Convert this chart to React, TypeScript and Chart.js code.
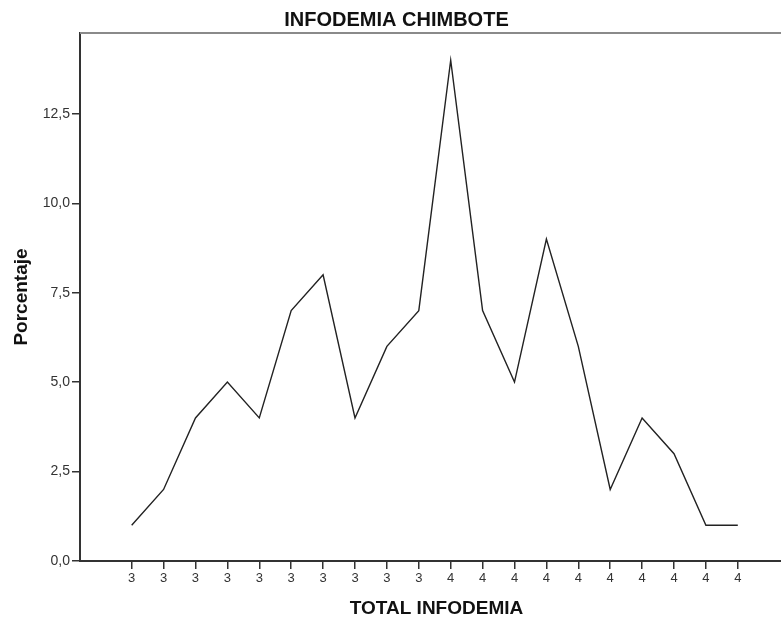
import React, { useEffect, useRef } from "react";
import { Chart, registerables } from "chart.js";

Chart.register(...registerables);

const categories: string[] = ["3", "3", "3", "3", "3", "3", "3", "3", "3", "3", "4", "4", "4", "4", "4", "4", "4", "4", "4", "4"];
const percentages: number[] = [1, 2, 4, 5, 4, 7, 8, 4, 6, 7, 14, 7, 5, 9, 6, 2, 4, 3, 1, 1];
const yTickValues: number[] = [0, 2.5, 5, 7.5, 10, 12.5];

const FONT = "'Liberation Sans', Arial, sans-serif";

const topLinePlugin = {
  id: "topLine",
  afterDraw(chart: any) {
    const { ctx, chartArea } = chart;
    ctx.save();
    ctx.strokeStyle = "#8a8a8a";
    ctx.lineWidth = 2;
    ctx.beginPath();
    ctx.moveTo(chartArea.left, chartArea.top);
    ctx.lineTo(chartArea.right, chartArea.top);
    ctx.stroke();
    ctx.restore();
  },
};

export default function App() {
  const ref = useRef<HTMLCanvasElement | null>(null);

  useEffect(() => {
    if (!ref.current) return;
    const chart = new Chart(ref.current, {
      type: "line",
      data: {
        datasets: [
          {
            data: percentages.map((v, i) => ({ x: i, y: v })),
            borderColor: "#222222",
            borderWidth: 1.4,
            pointRadius: 0,
            tension: 0,
            fill: false,
          },
        ],
      },
      plugins: [topLinePlugin],
      options: {
        animation: false,
        responsive: false,
        devicePixelRatio: 1,
        layout: { padding: 0 },
        plugins: {
          legend: { display: false },
          tooltip: { enabled: false },
          title: {
            display: true,
            text: "INFODEMIA CHIMBOTE",
            color: "#111111",
            font: { family: FONT, size: 20, weight: "bold" },
            padding: { top: 8, bottom: 1 },
          },
        },
        scales: {
          x: {
            type: "linear",
            min: -1.62,
            max: 20.73,
            afterBuildTicks: (scale: any) => {
              scale.ticks = categories.map((_, i) => ({ value: i }));
            },
            afterFit: (scale: any) => {
              scale.height = 62;
            },
            ticks: {
              autoSkip: false,
              maxRotation: 0,
              padding: 2,
              color: "#333333",
              font: { family: FONT, size: 13 },
              callback: (v: any) => {
                const i = Math.round(Number(v));
                return i >= 0 && i < categories.length && Math.abs(i - Number(v)) < 1e-6 ? categories[i] : "";
              },
            },
            grid: {
              display: true,
              drawOnChartArea: false,
              drawTicks: true,
              tickLength: 8,
              color: "#333333",
              lineWidth: 1.5,
            },
            border: { display: true, color: "#333333", width: 2 },
            title: {
              display: true,
              text: "TOTAL INFODEMIA",
              color: "#111111",
              font: { family: FONT, size: 19, weight: "bold" },
              padding: { top: 0, bottom: 3.3 },
            },
          },
          y: {
            type: "linear",
            min: 0,
            max: 14.76,
            afterBuildTicks: (scale: any) => {
              scale.ticks = yTickValues.map((v) => ({ value: v }));
            },
            afterFit: (scale: any) => {
              scale.width = 80;
            },
            ticks: {
              padding: 2,
              color: "#333333",
              font: { family: FONT, size: 14 },
              callback: (v: any) => Number(v).toFixed(1).replace(".", ","),
            },
            grid: {
              display: true,
              drawOnChartArea: false,
              drawTicks: true,
              tickLength: 8,
              color: "#333333",
              lineWidth: 1.5,
            },
            border: { display: true, color: "#333333", width: 2 },
            title: {
              display: true,
              text: "Porcentaje",
              color: "#111111",
              font: { family: FONT, size: 19, weight: "bold" },
              padding: { top: 10.5, bottom: 0 },
            },
          },
        },
      },
    } as any);
    return () => chart.destroy();
  }, []);

  return (
    <div style={{ position: "fixed", left: 0, top: 0, width: 781, height: 623, overflow: "hidden", background: "#ffffff" }}>
      <canvas ref={ref} width={793} height={623} style={{ display: "block", width: 793, height: 623 }} />
    </div>
  );
}
